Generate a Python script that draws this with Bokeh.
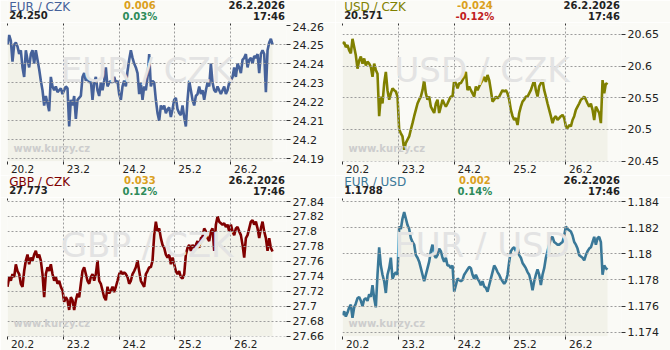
import numpy as np
from bokeh.plotting import figure
from bokeh.layouts import gridplot
from bokeh.models import LinearAxis, FixedTicker, Label, Range1d, Grid
from bokeh.embed import file_html
from bokeh.resources import INLINE

# ---------------- data ----------------
day_ticks = [0, 1, 2, 3, 4]
day_labels = ["20.2", "23.2", "24.2", "25.2", "26.2"]
last_time = 4.75          # 26.2. 17:46 as day offset

pairs = ["EUR / CZK", "USD / CZK", "GBP / CZK", "EUR / USD"]
last_values = ["24.250", "20.571", "27.773", "1.1788"]
changes = ["0.006", "-0.024", "0.033", "0.002"]
changes_pct = ["0.03%", "-0.12%", "0.12%", "0.14%"]
stamp_date = "26.2.2026"
stamp_time = "17:46"

eur_czk = [
    24.250, 24.255, 24.252, 24.241, 24.250, 24.251, 24.249, 24.245, 24.247, 24.238,
    24.233, 24.247, 24.242, 24.238, 24.245, 24.247, 24.240, 24.247, 24.242, 24.237,
    24.231, 24.226, 24.218, 24.223, 24.219, 24.215, 24.233, 24.228, 24.226, 24.228,
    24.225, 24.226, 24.227, 24.224, 24.226, 24.228, 24.227, 24.207, 24.221, 24.218,
    24.223, 24.211, 24.221, 24.222, 24.223, 24.233, 24.235, 24.231, 24.233, 24.230,
    24.231, 24.221, 24.230, 24.233, 24.226, 24.223, 24.230, 24.226, 24.231, 24.238,
    24.228, 24.230, 24.231, 24.230, 24.233, 24.230, 24.231, 24.224, 24.221, 24.228,
    24.231, 24.228, 24.236, 24.242, 24.247, 24.243, 24.240, 24.238, 24.235, 24.224,
    24.230, 24.221, 24.228, 24.226, 24.233, 24.245, 24.228, 24.231, 24.230, 24.221,
    24.214, 24.210, 24.218, 24.216, 24.218, 24.214, 24.216, 24.217, 24.212, 24.216,
    24.221, 24.222, 24.216, 24.214, 24.213, 24.218, 24.212, 24.207, 24.221, 24.231,
    24.226, 24.221, 24.218, 24.223, 24.224, 24.228, 24.224, 24.226, 24.221, 24.226,
    24.230, 24.228, 24.240, 24.230, 24.226, 24.225, 24.228, 24.226, 24.224, 24.226,
    24.228, 24.224, 24.226, 24.230, 24.231, 24.233, 24.238, 24.233, 24.240, 24.238,
    24.235, 24.242, 24.243, 24.245, 24.238, 24.242, 24.243, 24.240, 24.244, 24.243,
    24.245, 24.235, 24.245, 24.247, 24.245, 24.225, 24.247, 24.251, 24.253, 24.250,
]

usd_czk = [
    20.635, 20.638, 20.630, 20.633, 20.625, 20.620, 20.643, 20.630, 20.617, 20.596,
    20.609, 20.615, 20.604, 20.612, 20.601, 20.607, 20.604, 20.599, 20.583, 20.604,
    20.594, 20.588, 20.521, 20.552, 20.541, 20.573, 20.591, 20.562, 20.547, 20.557,
    20.565, 20.562, 20.560, 20.552, 20.500, 20.494, 20.489, 20.468, 20.479, 20.484,
    20.489, 20.500, 20.510, 20.521, 20.531, 20.541, 20.547, 20.552, 20.562, 20.578,
    20.557, 20.547, 20.552, 20.536, 20.531, 20.526, 20.541, 20.547, 20.526, 20.536,
    20.547, 20.541, 20.536, 20.541, 20.547, 20.552, 20.552, 20.578, 20.573, 20.565,
    20.573, 20.573, 20.578, 20.583, 20.591, 20.562, 20.568, 20.562, 20.557, 20.552,
    20.568, 20.562, 20.568, 20.573, 20.578, 20.583, 20.575, 20.586, 20.578, 20.562,
    20.544, 20.547, 20.552, 20.549, 20.552, 20.557, 20.562, 20.560, 20.562, 20.557,
    20.547, 20.531, 20.521, 20.515, 20.518, 20.507, 20.526, 20.536, 20.544, 20.547,
    20.552, 20.552, 20.557, 20.562, 20.570, 20.578, 20.562, 20.552, 20.568, 20.573,
    20.578, 20.562, 20.552, 20.541, 20.531, 20.521, 20.510, 20.518, 20.521, 20.515,
    20.518, 20.521, 20.523, 20.518, 20.505, 20.502, 20.507, 20.505, 20.515, 20.521,
    20.531, 20.536, 20.541, 20.547, 20.549, 20.552, 20.547, 20.541, 20.536, 20.541,
    20.531, 20.515, 20.536, 20.531, 20.526, 20.510, 20.578, 20.557, 20.573, 20.571,
]

gbp_czk = [
    27.726, 27.739, 27.734, 27.743, 27.739, 27.756, 27.747, 27.743, 27.730, 27.726,
    27.747, 27.761, 27.769, 27.756, 27.765, 27.761, 27.769, 27.774, 27.765, 27.769,
    27.761, 27.743, 27.712, 27.743, 27.752, 27.747, 27.756, 27.743, 27.734, 27.739,
    27.730, 27.734, 27.726, 27.721, 27.706, 27.712, 27.708, 27.695, 27.712, 27.708,
    27.695, 27.708, 27.717, 27.712, 27.730, 27.747, 27.752, 27.743, 27.734, 27.730,
    27.739, 27.743, 27.734, 27.743, 27.761, 27.734, 27.730, 27.721, 27.712, 27.708,
    27.726, 27.717, 27.721, 27.726, 27.719, 27.726, 27.734, 27.743, 27.747, 27.743,
    27.745, 27.743, 27.739, 27.730, 27.734, 27.743, 27.747, 27.752, 27.761, 27.747,
    27.734, 27.730, 27.726, 27.743, 27.747, 27.752, 27.752, 27.761, 27.795, 27.813,
    27.800, 27.804, 27.791, 27.782, 27.778, 27.769, 27.765, 27.769, 27.756, 27.765,
    27.756, 27.747, 27.743, 27.747, 27.739, 27.737, 27.743, 27.769, 27.778, 27.782,
    27.774, 27.782, 27.778, 27.782, 27.787, 27.778, 27.791, 27.793, 27.804, 27.800,
    27.791, 27.787, 27.800, 27.804, 27.774, 27.809, 27.820, 27.813, 27.811, 27.809,
    27.811, 27.806, 27.809, 27.800, 27.809, 27.800, 27.795, 27.804, 27.806, 27.800,
    27.795, 27.782, 27.765, 27.791, 27.795, 27.804, 27.813, 27.815, 27.809, 27.813,
    27.804, 27.791, 27.804, 27.813, 27.800, 27.791, 27.774, 27.791, 27.778, 27.773,
]

eur_usd = [
    1.1753, 1.1756, 1.1752, 1.1755, 1.1759, 1.1761, 1.1751, 1.1759, 1.1762, 1.1766,
    1.1767, 1.1764, 1.1760, 1.1765, 1.1766, 1.1764, 1.1769, 1.1767, 1.1776, 1.1766,
    1.1759, 1.1784, 1.1805, 1.1791, 1.1784, 1.1779, 1.1770, 1.1784, 1.1789, 1.1797,
    1.1781, 1.1784, 1.1786, 1.1784, 1.1821, 1.1819, 1.1827, 1.1832, 1.1827, 1.1822,
    1.1819, 1.1812, 1.1809, 1.1807, 1.1799, 1.1797, 1.1794, 1.1789, 1.1784, 1.1779,
    1.1784, 1.1789, 1.1794, 1.1802, 1.1807, 1.1799, 1.1797, 1.1799, 1.1804, 1.1802,
    1.1797, 1.1794, 1.1797, 1.1791, 1.1791, 1.1789, 1.1791, 1.1771, 1.1776, 1.1781,
    1.1780, 1.1779, 1.1780, 1.1784, 1.1786, 1.1788, 1.1790, 1.1789, 1.1784, 1.1781,
    1.1784, 1.1781, 1.1779, 1.1776, 1.1779, 1.1775, 1.1774, 1.1771, 1.1776, 1.1781,
    1.1786, 1.1791, 1.1789, 1.1786, 1.1784, 1.1781, 1.1779, 1.1777, 1.1779, 1.1784,
    1.1794, 1.1802, 1.1804, 1.1805, 1.1802, 1.1805, 1.1799, 1.1797, 1.1793, 1.1791,
    1.1789, 1.1786, 1.1784, 1.1779, 1.1772, 1.1779, 1.1784, 1.1788, 1.1784, 1.1776,
    1.1784, 1.1789, 1.1797, 1.1802, 1.1807, 1.1812, 1.1813, 1.1809, 1.1808, 1.1807,
    1.1807, 1.1808, 1.1809, 1.1814, 1.1821, 1.1819, 1.1818, 1.1817, 1.1814, 1.1809,
    1.1807, 1.1804, 1.1799, 1.1798, 1.1797, 1.1795, 1.1799, 1.1802, 1.1804, 1.1805,
    1.1809, 1.1813, 1.1807, 1.1812, 1.1813, 1.1809, 1.1784, 1.1791, 1.1789, 1.1788,
]

series = [eur_czk, usd_czk, gbp_czk, eur_usd]

y_ticks = [
    [24.19, 24.20, 24.21, 24.22, 24.23, 24.24, 24.25, 24.26],
    [20.45, 20.50, 20.55, 20.60, 20.65],
    [27.66, 27.68, 27.70, 27.72, 27.74, 27.76, 27.78, 27.80, 27.82, 27.84],
    [1.174, 1.176, 1.178, 1.180, 1.182, 1.184],
]
y_tick_labels = [
    ["24.19", "24.2", "24.21", "24.22", "24.23", "24.24", "24.25", "24.26"],
    ["20.45", "20.5", "20.55", "20.6", "20.65"],
    ["27.66", "27.68", "27.7", "27.72", "27.74", "27.76", "27.78", "27.8", "27.82", "27.84"],
    ["1.174", "1.176", "1.178", "1.18", "1.182", "1.184"],
]
y_ranges = [
    (24.1886, 24.2600),
    (20.4495, 20.6641),
    (27.6595, 27.8413),
    (1.17367, 1.18408),
]

# ---------------- style ----------------
line_colors = ["#46629a", "#808000", "#800000", "#3a7898"]
change_colors = ["#daa020", "#daa020", "#daa020", "#daa020"]
pct_colors = ["#2e8b5a", "#c02020", "#2e8b5a", "#2e8b5a"]
BG = "#fafaf6"
AREA = "#f2f2e9"
GRID = "#9c9c9c"
TXT = "#222222"
FONT = "DejaVu Sans"

W = 335
HH = 22                 # header strip height
CH = 175 - HH           # chart figure height
ML, MR, MT = 7, 49, 3
FRAME_H = CH - MT - 13  # frame height inside the chart figure (bottom axis ~13px)


def header(i):
    h = figure(width=W, height=HH, x_range=Range1d(0, W), y_range=Range1d(HH, 0),
               x_axis_type=None, y_axis_type=None, output_backend="svg",
               toolbar_location=None, tools="", min_border=0,
               background_fill_color=BG, border_fill_color=BG, outline_line_color=None)

    def t(x, y, text, size, color, align="left", bold=False):
        h.add_layout(Label(x=x, y=y, text=text, text_font=FONT, text_font_size=size,
                           text_font_style="bold" if bold else "normal",
                           text_color=color, text_align=align, text_baseline="top"))

    t(2, -0.4, pairs[i], "12px", line_colors[i])
    t(2, 10.3, last_values[i], "10px", TXT, bold=True)
    t(159, 0.7, changes[i], "10px", change_colors[i], align="center", bold=True)
    t(159, 10.3, changes_pct[i], "10px", pct_colors[i], align="center", bold=True)
    t(333, 0.7, stamp_date, "10px", TXT, align="right", bold=True)
    t(333, 10.3, stamp_time, "10px", TXT, align="right", bold=True)
    return h


def chart(i):
    vals = series[i]
    tt = np.linspace(0, last_time, len(vals))
    y0, y1 = y_ranges[i]
    p = figure(width=W, height=CH, x_range=Range1d(0, 5), y_range=Range1d(y0, y1),
               x_axis_type=None, y_axis_type=None,
               output_backend="svg", toolbar_location=None, tools="",
               min_border_left=ML, min_border_right=MR, min_border_top=MT, min_border_bottom=10,
               background_fill_color=BG, border_fill_color=BG, outline_line_color=None)

    p.varea(x=tt, y1=np.full(len(vals), y0), y2=vals, fill_color=AREA, level="underlay")

    p.add_layout(Grid(dimension=0, ticker=FixedTicker(ticks=day_ticks), grid_line_color=GRID,
                      grid_line_dash="2 2", level="glyph"))
    p.add_layout(Grid(dimension=1, ticker=FixedTicker(ticks=y_ticks[i]), grid_line_color=GRID,
                      grid_line_dash="2 2", level="glyph"))

    # watermarks (screen units measured from the frame's bottom-left corner)
    p.add_layout(Label(x=(W - ML - MR) / 2, y=FRAME_H - 25, x_units="screen",
                       y_units="screen", text=pairs[i], text_font=FONT, text_font_size="34px",
                       text_color="#e3e3e3", text_align="center", text_baseline="top",
                       level="glyph"))
    p.add_layout(Label(x=13 - ML, y=FRAME_H - 118, x_units="screen",
                       y_units="screen", text="www.kurzy.cz", text_font=FONT,
                       text_font_size="10px", text_font_style="bold", text_baseline="top",
                       text_color="#cdcdcd", level="glyph"))

    p.line(tt, vals, line_color=line_colors[i], line_width=2.6)

    yaxis = LinearAxis(ticker=FixedTicker(ticks=y_ticks[i]),
                       major_label_overrides=dict(zip(y_ticks[i], y_tick_labels[i])),
                       axis_line_color=None, major_tick_out=4, major_tick_in=0,
                       major_tick_line_color="#333333", minor_tick_line_color=None,
                       major_label_standoff=2, major_label_text_font=FONT,
                       major_label_text_font_size="11px", major_label_text_color=TXT)
    p.add_layout(yaxis, "right")

    label_pos = [d + 0.27 for d in day_ticks]
    xaxis = LinearAxis(ticker=FixedTicker(ticks=label_pos, minor_ticks=day_ticks),
                       major_label_overrides=dict(zip(label_pos, day_labels)),
                       axis_line_color=None, major_tick_line_color=None,
                       major_tick_out=0, major_tick_in=0,
                       minor_tick_out=3, minor_tick_in=0, minor_tick_line_color="#333333",
                       major_label_standoff=0, major_label_text_font=FONT,
                       major_label_text_font_size="10.5px", major_label_text_color=TXT)
    p.add_layout(xaxis, "below")

    # small tick marks on top of the day gridlines (minor ticks only, no labels)
    top = LinearAxis(ticker=FixedTicker(ticks=[], minor_ticks=day_ticks),
                     axis_line_color=None, major_tick_line_color=None,
                     major_tick_out=0, major_tick_in=0, major_label_standoff=0,
                     minor_tick_out=2, minor_tick_in=0, minor_tick_line_color="#333333")
    p.add_layout(top, "above")
    return p


heads = [header(i) for i in range(4)]
charts = [chart(i) for i in range(4)]
grid = gridplot([[heads[0], heads[1]], [charts[0], charts[1]],
                 [heads[2], heads[3]], [charts[2], charts[3]]], toolbar_location=None)

open("out.html", "w").write(file_html(grid, INLINE))
